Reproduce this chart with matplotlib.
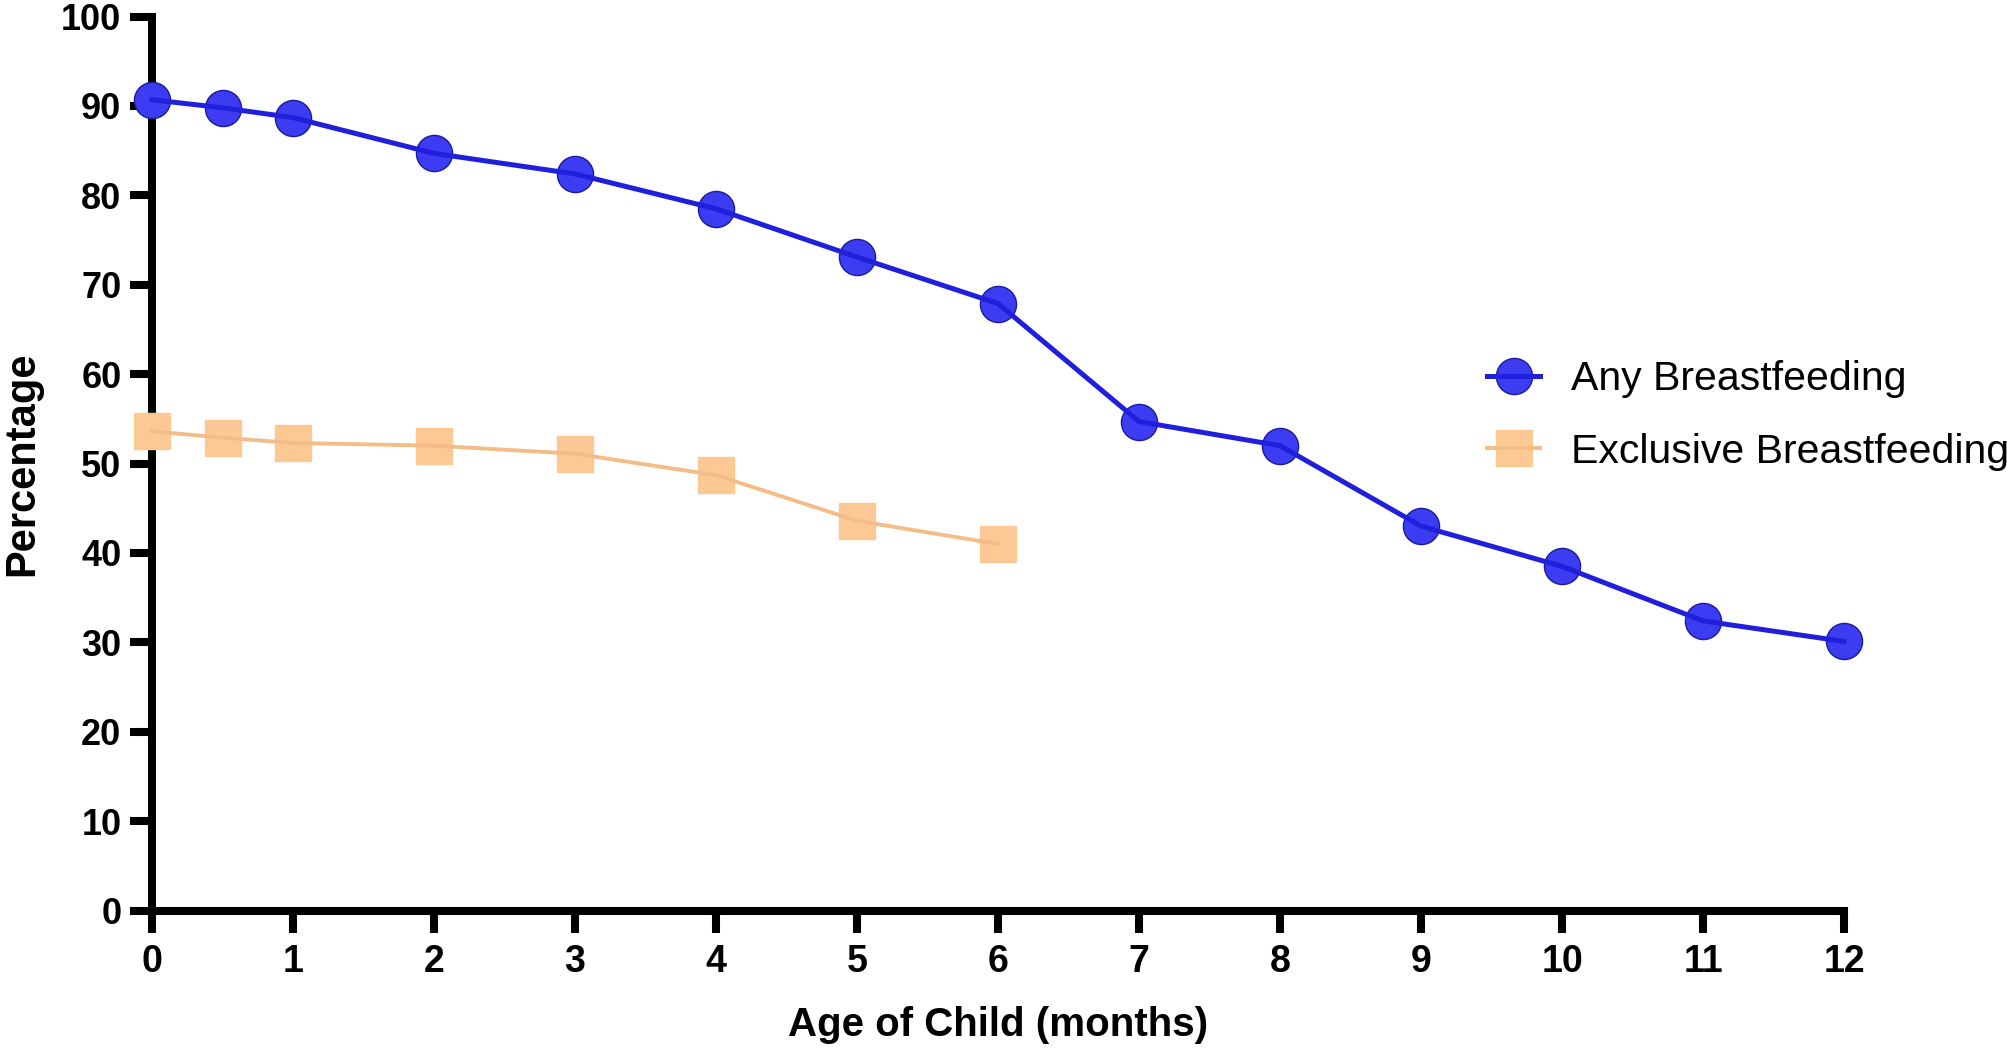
import matplotlib
matplotlib.use("Agg")
import matplotlib.pyplot as plt
from matplotlib.lines import Line2D
from matplotlib.legend_handler import HandlerTuple

# Data
ages_any = [0, 0.5, 1, 2, 3, 4, 5, 6, 7, 8, 9, 10, 11, 12]
any_bf = [90.7, 89.8, 88.7, 84.7, 82.4, 78.5, 73.1, 67.9, 54.7, 52.0, 43.0, 38.5, 32.4, 30.1]
ages_excl = [0, 0.5, 1, 2, 3, 4, 5, 6]
excl_bf = [53.6, 52.9, 52.3, 52.0, 51.1, 48.7, 43.6, 41.0]
xticks = list(range(0, 13))
yticks = list(range(0, 101, 10))

font = ['Liberation Sans', 'DejaVu Sans']

fig = plt.figure(figsize=(20.08, 10.52), dpi=100)
ax = fig.add_axes([152/2008, 1 - 910.5/1052, (1844-152)/2008, (910.5-16.6)/1052])

blue_face = '#3c3cf2'
blue_edge = '#1a1a9a'
blue_line = '#1f1fdc'
orange_face = '#fcc994'
orange_line = '#f4bd88'

# markers first, then lines drawn over them
ax.plot(ages_excl, excl_bf, ls='none', marker='s', ms=26,
        mfc=orange_face, mec=orange_face, clip_on=False, zorder=3)
ax.plot(ages_excl, excl_bf, color=orange_line, lw=2.8, clip_on=False, zorder=3.5)
ax.plot(ages_any, any_bf, ls='none', marker='o', ms=26,
        mfc=blue_face, mec=blue_edge, mew=1.0, clip_on=False, zorder=4)
ax.plot(ages_any, any_bf, color=blue_line, lw=3.6, clip_on=False, zorder=4.5)

ax.set_xlim(0, 12)
ax.set_ylim(0, 100)
ax.set_xticks(xticks)
ax.set_yticks(yticks)
for s in ['top', 'right']:
    ax.spines[s].set_visible(False)
for s in ['left', 'bottom']:
    ax.spines[s].set_linewidth(5.8)
    ax.spines[s].set_capstyle('projecting')
    ax.spines[s].set_zorder(2)
ax.tick_params(axis='both', length=16, width=5.8, direction='out')
ax.tick_params(axis='y', pad=6)
ax.tick_params(axis='x', pad=8)

for lab in ax.get_yticklabels():
    lab.set_fontfamily(font)
    lab.set_fontweight('bold')
    lab.set_fontsize(26)
for lab in ax.get_xticklabels():
    lab.set_fontfamily(font)
    lab.set_fontweight('bold')
    lab.set_fontsize(27)

ax.set_xlabel('Age of Child (months)', fontsize=29, fontweight='bold', family=font)
ax.xaxis.set_label_coords(0.5, -0.107)
ax.set_ylabel('Percentage', fontsize=30, fontweight='bold', family=font)
ax.yaxis.set_label_coords(-0.065, 0.5)

h_any = (Line2D([], [], ls='none', marker='o', ms=26, mfc=blue_face, mec=blue_edge, mew=1.0),
         Line2D([], [], color=blue_line, lw=3.6))
h_excl = (Line2D([], [], ls='none', marker='s', ms=26, mfc=orange_face, mec=orange_face),
          Line2D([], [], color=orange_line, lw=2.8))
leg = fig.legend([h_any, h_excl], ['Any Breastfeeding', 'Exclusive Breastfeeding'],
                 handler_map={tuple: HandlerTuple(ndivide=1, pad=0)},
                 loc='upper left', bbox_to_anchor=(1487/2008, 1 - 360/1052),
                 frameon=False, handlelength=1.3, handletextpad=0.75,
                 labelspacing=0.85, borderpad=0, borderaxespad=0,
                 prop={'family': font, 'size': 29.5})

fig.savefig('out.png', dpi=100)
